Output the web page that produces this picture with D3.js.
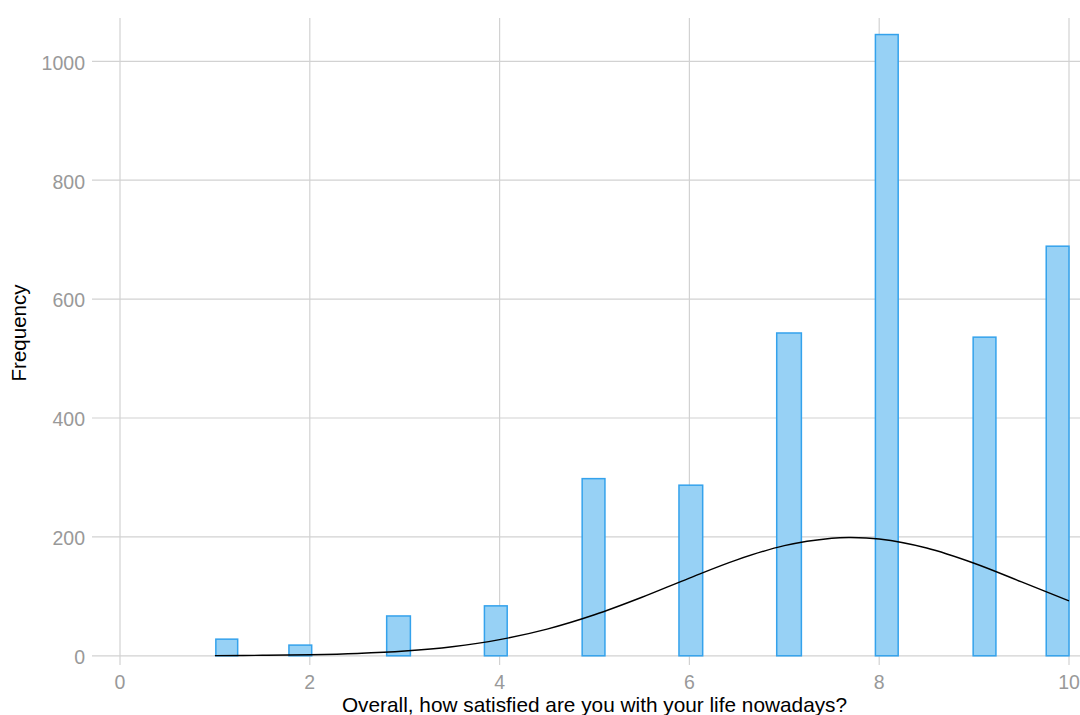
<!DOCTYPE html>
<html>
<head>
<meta charset="utf-8">
<script src="https://cdn.jsdelivr.net/npm/d3@7"></script>
<style>
  html, body { margin: 0; padding: 0; background: #fff; }
  svg { display: block; font-family: "Liberation Sans", Arial, sans-serif; }
</style>
</head>
<body>
<svg id="chart" width="1080" height="715"></svg>
<script>
// ---- data ----
const scores    = [1, 2, 3, 4, 5, 6, 7, 8, 9, 10];
const counts    = [28, 18, 67, 84, 298, 287, 543, 1045, 536, 689];
const binStart  = [1.01, 1.78, 2.81, 3.84, 4.87, 5.89, 6.92, 7.96, 8.99, 9.76];
const binEnd    = [1.24, 2.02, 3.06, 4.08, 5.11, 6.14, 7.18, 8.20, 9.23, 10.0];
const curveX    = [1, 1.5, 2, 2.5, 3, 3.5, 4, 4.5, 5, 5.5, 6, 6.5, 7, 7.5, 7.7, 8, 8.5, 9, 9.5, 10];
const curveY    = [0.3, 0.8, 1.8, 3.9, 8.0, 15.3, 27.2, 44.9, 69.0, 98.5, 130.8, 161.4, 185.3, 197.8, 199, 196.4, 181.3, 155.7, 124.3, 92.3];
const xTicks    = [0, 2, 4, 6, 8, 10];
const yTicks    = [0, 200, 400, 600, 800, 1000];
const xTitle    = "Overall, how satisfied are you with your life nowadays?";
const yTitle    = "Frequency";

// ---- layout ----
const svg = d3.select("#chart");
const x = d3.scaleLinear().domain([0, 10]).range([120, 1069]);
const y = d3.scaleLinear().domain([0, 1000]).range([655.8, 61.3]);
const gridTop = 18, gridBottom = 665, gridLeft = 92, gridRight = 1080;
const gridColor = "#d2d2d2";
const tickColor = "#999999";

// horizontal grid
svg.append("g").selectAll("line").data(yTicks).join("line")
  .attr("x1", gridLeft).attr("x2", gridRight)
  .attr("y1", d => y(d)).attr("y2", d => y(d))
  .attr("stroke", gridColor).attr("stroke-width", 1.2);

// vertical grid
svg.append("g").selectAll("line").data(xTicks).join("line")
  .attr("x1", d => x(d)).attr("x2", d => x(d))
  .attr("y1", gridTop).attr("y2", gridBottom)
  .attr("stroke", gridColor).attr("stroke-width", 1.2);

// y tick labels
svg.append("g").selectAll("text").data(yTicks).join("text")
  .attr("x", 85).attr("y", d => y(d) + 1.5)
  .attr("dy", "0.35em").attr("text-anchor", "end")
  .attr("font-size", 19.5).attr("fill", tickColor)
  .text(d => d);

// x tick labels
svg.append("g").selectAll("text").data(xTicks).join("text")
  .attr("x", d => x(d)).attr("y", 682)
  .attr("dy", "0.35em").attr("text-anchor", "middle")
  .attr("font-size", 19.5).attr("fill", tickColor)
  .text(d => d);

// bars
const bars = scores.map((s, i) => ({ s, c: counts[i], a: binStart[i], b: binEnd[i] }));
svg.append("g").selectAll("rect").data(bars).join("rect")
  .attr("x", d => x(d.a)).attr("width", d => x(d.b) - x(d.a))
  .attr("y", d => y(d.c)).attr("height", d => y(0) - y(d.c))
  .attr("fill", "#97d1f5").attr("stroke", "#34a2ec").attr("stroke-width", 1.5);

// normal curve
const pts = curveX.map((v, i) => [v, curveY[i]]);
svg.append("path").datum(pts)
  .attr("d", d3.line().x(d => x(d[0])).y(d => y(d[1])).curve(d3.curveCatmullRom))
  .attr("fill", "none").attr("stroke", "#000").attr("stroke-width", 1.4);

// axis titles
svg.append("text").attr("x", x(5)).attr("y", 711.5)
  .attr("text-anchor", "middle")
  .attr("font-size", 20.8).attr("fill", "#000").text(xTitle);

svg.append("text")
  .attr("transform", `translate(19, 333) rotate(-90)`)
  .attr("dy", "0.35em").attr("text-anchor", "middle")
  .attr("font-size", 20.5).attr("fill", "#000").text(yTitle);
</script>
</body>
</html>
